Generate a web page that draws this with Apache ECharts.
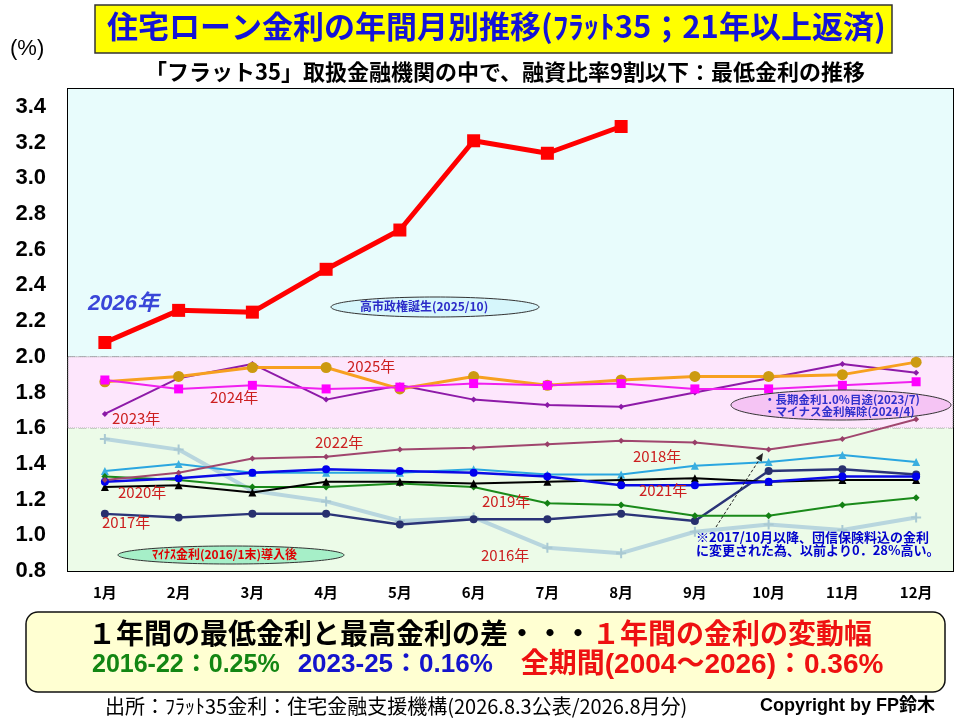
<!DOCTYPE html>
<html lang="ja">
<head>
    <meta charset="UTF-8">
    <title>住宅ローン金利の年間月別推移</title>
    <script type="text/javascript" src="https://cdn.jsdelivr.net/npm/echarts@6/dist/echarts.min.js"></script>
    <style>
        body { margin: 0; background: #fff; }
        #main { width: 960px; height: 720px; }
    </style>
</head>
<body>
<div id="main"></div>
<script type="text/javascript">
    // 月（横軸）
    var months = ['1月','2月','3月','4月','5月','6月','7月','8月','9月','10月','11月','12月'];

    // 年別の最低金利（%）
    var r2016 = [1.54, 1.48, 1.25, 1.19, 1.08, 1.10, 0.93, 0.90, 1.02, 1.06, 1.03, 1.10];
    var r2017 = [1.12, 1.10, 1.12, 1.12, 1.06, 1.09, 1.09, 1.12, 1.08, 1.36, 1.37, 1.34];
    var r2018 = [1.36, 1.40, 1.35, 1.35, 1.35, 1.37, 1.34, 1.34, 1.39, 1.41, 1.45, 1.41];
    var r2019 = [1.33, 1.31, 1.27, 1.27, 1.29, 1.27, 1.18, 1.17, 1.11, 1.11, 1.17, 1.21];
    var r2020 = [1.27, 1.28, 1.24, 1.30, 1.30, 1.29, 1.30, 1.31, 1.32, 1.30, 1.31, 1.31];
    var r2021 = [1.30, 1.32, 1.35, 1.37, 1.36, 1.35, 1.33, 1.28, 1.28, 1.30, 1.33, 1.33];
    var r2022 = [1.31, 1.35, 1.43, 1.44, 1.48, 1.49, 1.51, 1.53, 1.52, 1.48, 1.54, 1.65];
    var r2023 = [1.68, 1.88, 1.96, 1.76, 1.84, 1.76, 1.73, 1.72, 1.80, 1.88, 1.96, 1.91];
    var r2024 = [1.87, 1.82, 1.84, 1.82, 1.83, 1.85, 1.84, 1.85, 1.82, 1.82, 1.84, 1.86];
    var r2025 = [1.86, 1.89, 1.94, 1.94, 1.82, 1.89, 1.84, 1.87, 1.89, 1.89, 1.90, 1.97];
    var r2026 = [2.08, 2.26, 2.25, 2.49, 2.71, 3.21, 3.14, 3.29];

    // 縦軸
    var yMin = 0.8, yMax = 3.5, yStep = 0.2;

    // 背景の帯（下限,上限）
    var bandLow = [0.8, 1.6];
    var bandMid = [1.6, 2.0];
    var bandHigh = [2.0, 3.5];

    var JP = '"Noto Sans CJK JP", sans-serif';
    var NUM = '"Liberation Sans", "Noto Sans CJK JP", sans-serif';

    var plusPath = 'path://M-1,-5L1,-5L1,-1L5,-1L5,1L1,1L1,5L-1,5L-1,1L-5,1L-5,-1L-1,-1Z';

    function lineSeries(name, data, color, lineColor, symbol, size, width, z){
        return {
            name: name,
            type: 'line',
            data: data,
            symbol: symbol,
            symbolSize: size,
            showSymbol: true,
            z: z,
            itemStyle: { color: color },
            lineStyle: { color: lineColor, width: width },
            emphasis: { disabled: true }
        };
    }

    // 年ラベル
    function yearText(txt, x, y){
        return {
            type: 'text', left: x, top: y, z: 50,
            style: { text: txt, fill: '#cc1f1f', font: '15px ' + JP }
        };
    }

    var myChart = echarts.init(document.getElementById('main'));
    var option = {
        animation: false,
        backgroundColor: '#fff',
        grid: {
            left: 68, right: 7, top: 89, bottom: 149,
            show: true, borderColor: '#000', borderWidth: 2,
            backgroundColor: 'transparent'
        },
        xAxis: {
            type: 'category',
            data: months,
            boundaryGap: true,
            axisLine: { lineStyle: { color: '#000', width: 2 } },
            axisTick: { inside: true, length: 6, lineStyle: { color: '#000' } },
            axisLabel: { color: '#000', fontSize: 15, fontWeight: 'bold', fontFamily: JP, margin: 14 }
        },
        yAxis: {
            type: 'value',
            min: yMin, max: yMax, interval: yStep,
            axisLine: { show: true, lineStyle: { color: '#000', width: 2 } },
            axisTick: { show: false },
            axisLabel: {
                color: '#000', fontSize: 22, fontWeight: 'bold', fontFamily: NUM, margin: 22,
                showMaxLabel: false,
                formatter: function(v){ return v.toFixed(1); }
            },
            splitLine: { show: true, lineStyle: { color: '#000', width: 2, type: [7, 4] } }
        },
        series: [
            {
                name: 'bands', type: 'line', data: [], z: -1, silent: true,
                markArea: {
                    silent: true,
                    data: [
                        [{ yAxis: bandHigh[0], itemStyle: { color: '#e8fcfc' } }, { yAxis: bandHigh[1] }],
                        [{ yAxis: bandMid[0], itemStyle: { color: '#fde6fc', borderColor: '#8a8a8a', borderWidth: 1, borderType: 'dotted' } }, { yAxis: bandMid[1] }],
                        [{ yAxis: bandLow[0], itemStyle: { color: '#ecfbe8' } }, { yAxis: bandLow[1] }]
                    ]
                }
            },
            lineSeries('2016年', r2016, '#a9c9d2', '#b8d6de', plusPath, 10, 4, 3),
            lineSeries('2017年', r2017, '#28306e', '#2b3478', 'circle', 8, 2.5, 4),
            lineSeries('2018年', r2018, '#3aaedf', '#2aa6e0', 'triangle', 8, 2, 4),
            lineSeries('2019年', r2019, '#138013', '#1a8a1a', 'diamond', 7, 2, 4),
            lineSeries('2020年', r2020, '#000', '#000', 'triangle', 8, 2, 4),
            lineSeries('2021年', r2021, '#0000ee', '#0a0ae6', 'circle', 8, 2.5, 4),
            lineSeries('2022年', r2022, '#983f68', '#a0466e', 'diamond', 6, 2, 4),
            lineSeries('2023年', r2023, '#8a1aa6', '#8e1aa8', 'diamond', 6, 2, 5),
            lineSeries('2025年', r2025, '#cc9a10', '#f7a020', 'circle', 11, 3, 5),
            lineSeries('2024年', r2024, '#ff00ff', '#f020f0', 'rect', 9, 2, 6),
            lineSeries('2026年', r2026, '#ff0000', '#ff0000', 'rect', 13, 5, 8)
        ],
        graphic: [
            // タイトル
            {
                type: 'rect', z: 50,
                shape: { x: 95, y: 5, width: 797, height: 48 },
                style: { fill: '#ffff00', stroke: '#333', lineWidth: 1.5 }
            },
            {
                type: 'text', z: 51, left: 107, top: 11,
                style: {
                    text: '住宅ローン金利の年間月別推移(ﾌﾗｯﾄ35；21年以上返済)',
                    fill: '#1414d6', font: 'bold 31px ' + JP
                }
            },
            {
                type: 'text', z: 51, left: 10, top: 38,
                style: { text: '(%)', fill: '#000', font: '22px "Liberation Sans", sans-serif' }
            },
            {
                type: 'text', z: 51, left: 145, top: 61,
                style: {
                    text: '「フラット35」取扱金融機関の中で、融資比率9割以下：最低金利の推移',
                    fill: '#000', font: 'bold 22px ' + JP
                }
            },
            // 注記
            {
                type: 'text', z: 50, left: 88, top: 293,
                style: { text: '2026年', fill: '#3a46d8', font: 'italic bold 22px ' + NUM }
            },
            yearText('2025年', 347, 359),
            yearText('2024年', 210, 390),
            yearText('2023年', 112, 411),
            yearText('2022年', 315, 435),
            yearText('2020年', 118, 485),
            yearText('2017年', 102, 515),
            yearText('2019年', 482, 494),
            yearText('2016年', 481, 548),
            yearText('2018年', 633, 449),
            yearText('2021年', 639, 483),
            {
                type: 'ellipse', z: 40,
                shape: { cx: 435, cy: 307, rx: 104, ry: 10 },
                style: { fill: '#d6f6fb', stroke: '#333', lineWidth: 1 }
            },
            {
                type: 'text', z: 41, left: 360, top: 300,
                style: { text: '高市政権誕生(2025/10)', fill: '#2b2bc8', font: 'bold 12px ' + JP }
            },
            {
                type: 'ellipse', z: 40,
                shape: { cx: 231, cy: 555, rx: 113, ry: 9 },
                style: { fill: '#a6efc8', stroke: '#333', lineWidth: 1 }
            },
            {
                type: 'text', z: 41, left: 152, top: 548,
                style: { text: 'ﾏｲﾅｽ金利(2016/1末)導入後', fill: '#dd0000', font: 'bold 12px ' + JP }
            },
            {
                type: 'ellipse', z: 40,
                shape: { cx: 841, cy: 405, rx: 110, ry: 15 },
                style: { fill: '#f5c4f4', stroke: '#333', lineWidth: 1 }
            },
            {
                type: 'text', z: 41, left: 764, top: 394,
                style: {
                    text: '・長期金利1.0%目途(2023/7)\n・マイナス金利解除(2024/4)',
                    fill: '#3030cc', font: 'bold 11.5px ' + JP, lineHeight: 12
                }
            },
            {
                type: 'text', z: 41, left: 696, top: 531,
                style: {
                    text: '※2017/10月以降、団信保険料込の金利\nに変更された為、以前より0．28%高い。',
                    fill: '#0000cc', font: 'bold 13px ' + JP, lineHeight: 13
                }
            },
            {
                type: 'line', z: 41,
                shape: { x1: 716, y1: 527, x2: 761, y2: 457 },
                style: { stroke: '#222', lineWidth: 1, lineDash: [3, 2] }
            },
            {
                type: 'polygon', z: 41,
                shape: { points: [[763, 453], [761.7, 461.7], [755.7, 457.9]] },
                style: { fill: '#222' }
            },
            // 下部の枠
            {
                type: 'rect', z: 50,
                shape: { x: 26, y: 612, width: 919, height: 80, r: 12 },
                style: { fill: '#ffffd2', stroke: '#111', lineWidth: 1.5 }
            },
            {
                type: 'text', z: 51, left: 88, top: 619,
                style: {
                    text: '{b|１年間の最低金利と最高金利の差・・・}{r|１年間の金利の変動幅}',
                    rich: {
                        b: { fill: '#000', font: 'bold 28px ' + JP },
                        r: { fill: '#ee1111', font: 'bold 28px ' + JP }
                    }
                }
            },
            {
                type: 'text', z: 51, left: 92, top: 651,
                style: {
                    text: '{g|2016-22：0.25%}{u|2023-25：0.16%}{r|全期間(2004～2026)：0.36%}',
                    rich: {
                        g: { fill: '#138613', font: 'bold 25px ' + NUM },
                        u: { fill: '#1414cc', font: 'bold 26px ' + NUM, padding: [0, 0, 0, 18] },
                        r: { fill: '#ee1111', font: 'bold 28px ' + NUM, padding: [0, 0, 0, 28] }
                    }
                }
            },
            {
                type: 'text', z: 51, left: 105, top: 696,
                style: {
                    text: '出所：ﾌﾗｯﾄ35金利：住宅金融支援機構(2026.8.3公表/2026.8月分)',
                    fill: '#000', font: '20px ' + JP
                }
            },
            {
                type: 'text', z: 51, left: 760, top: 697,
                style: { text: 'Copyright by FP鈴木', fill: '#000', font: 'bold 18px ' + NUM }
            }
        ]
    };
    myChart.setOption(option);
</script>
</body>
</html>
